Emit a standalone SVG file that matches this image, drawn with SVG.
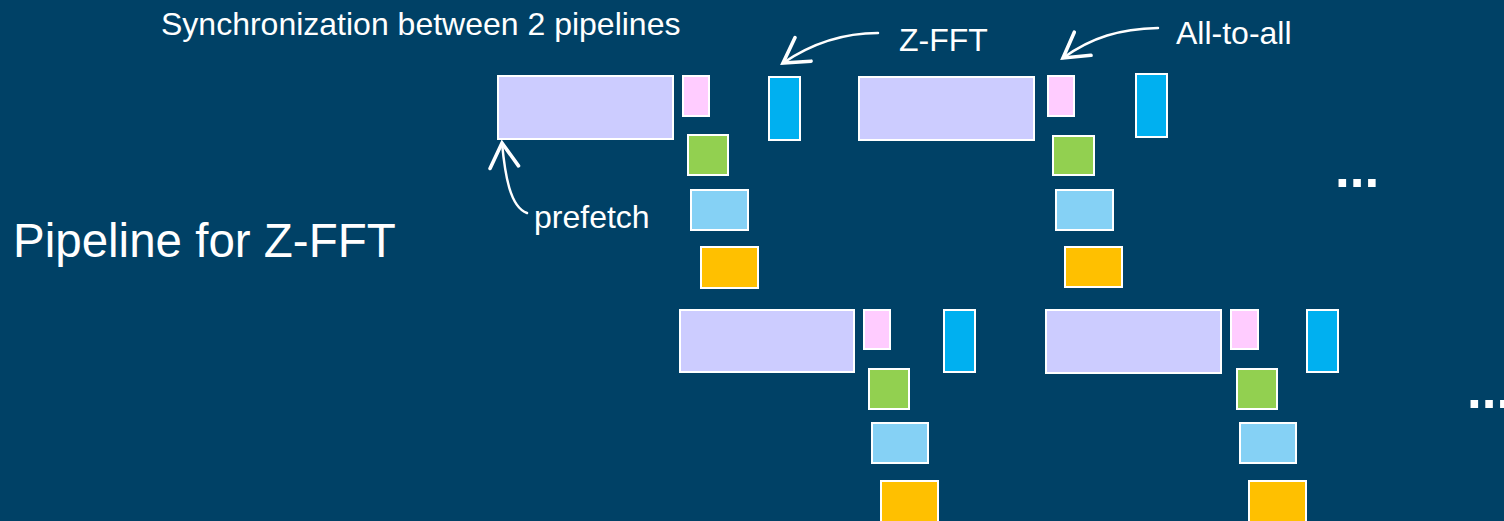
<svg xmlns="http://www.w3.org/2000/svg" width="1504" height="521" viewBox="0 0 1504 521">
<defs>
<style>
.bg{fill:#004166}
.b{stroke:#FFFFFF;stroke-width:2}
.lav{fill:#CCCCFF}
.pink{fill:#FFCCFF}
.blue{fill:#00B0F0}
.green{fill:#92D050}
.lblue{fill:#85D1F5}
.orange{fill:#FFC000}
.t{font-family:"Liberation Sans",Arial,sans-serif;fill:#FFFFFF}
.conn{fill:none;stroke:#FFFFFF;stroke-width:2.5;stroke-linecap:round}
</style>
<marker id="vhead" markerUnits="userSpaceOnUse" orient="auto" refX="0" refY="0" markerWidth="40" markerHeight="40" viewBox="-22 -14 26 28" overflow="visible">
<path d="M-17,-10 L0,0 L-17,10" fill="none" stroke="#FFFFFF" stroke-width="2.5" stroke-linecap="round" stroke-linejoin="miter"/>
</marker>
</defs>
<rect class="bg" x="0" y="0" width="1504" height="521"/>

<g id="labels">
<text class="t" x="161" y="35" font-size="32">Synchronization between 2 pipelines</text>
<text class="t" x="13" y="257" font-size="47.5">Pipeline for Z-FFT</text>
<text class="t" x="534" y="228" font-size="32">prefetch</text>
<text class="t" x="899" y="51" font-size="32">Z-FFT</text>
<text class="t" x="1176" y="44" font-size="32">All-to-all</text>
<text class="t" x="1335" y="187" font-size="53" font-weight="bold">...</text>
<text class="t" x="1467" y="408" font-size="53" font-weight="bold">...</text>
</g>

<g id="blockA">
<rect class="b lav" x="498" y="76" width="175" height="63"/>
<rect class="b pink" x="683" y="76" width="26" height="40"/>
<rect class="b blue" x="769" y="77" width="31" height="63"/>
<rect class="b green" x="688" y="135" width="40" height="40"/>
<rect class="b lblue" x="691" y="190" width="57" height="40"/>
<rect class="b orange" x="701" y="247" width="57" height="41"/>
</g>

<g id="blockB">
<rect class="b lav" x="859" y="77" width="175" height="63"/>
<rect class="b pink" x="1048" y="76" width="26" height="40"/>
<rect class="b blue" x="1136" y="74" width="31" height="63"/>
<rect class="b green" x="1053" y="136" width="41" height="39"/>
<rect class="b lblue" x="1056" y="190" width="57" height="40"/>
<rect class="b orange" x="1065" y="247" width="57" height="40"/>
</g>

<g id="blockC">
<rect class="b lav" x="680" y="310" width="174" height="62"/>
<rect class="b pink" x="864" y="310" width="26" height="39"/>
<rect class="b blue" x="944" y="310" width="31" height="62"/>
<rect class="b green" x="869" y="369" width="40" height="40"/>
<rect class="b lblue" x="872" y="423" width="56" height="40"/>
<rect class="b orange" x="881" y="481" width="57" height="41"/>
</g>

<g id="blockD">
<rect class="b lav" x="1046" y="310" width="175" height="63"/>
<rect class="b pink" x="1231" y="310" width="27" height="39"/>
<rect class="b blue" x="1307" y="310" width="31" height="62"/>
<rect class="b green" x="1237" y="369" width="40" height="40"/>
<rect class="b lblue" x="1240" y="423" width="56" height="40"/>
<rect class="b orange" x="1249" y="481" width="57" height="41"/>
</g>

<g id="connectors">
<path class="conn" d="M878,33 C840,33 808,46 783,63" marker-end="url(#vhead)"/>
<path class="conn" d="M1158,28 C1120,29 1092,37 1063,58" marker-end="url(#vhead)"/>
<path class="conn" d="M527,213 C510,207 505,175 502,143" marker-end="url(#vhead)"/>
</g>
</svg>
